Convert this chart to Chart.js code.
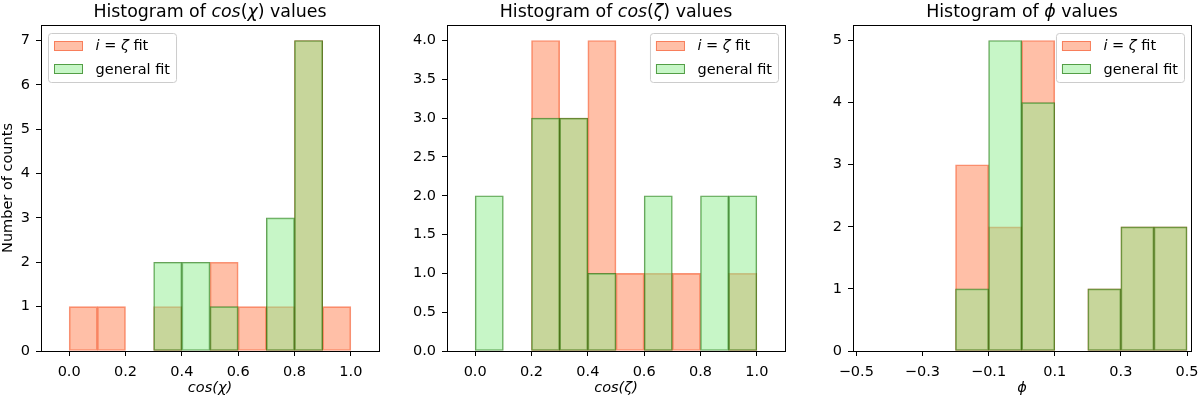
<!DOCTYPE html>
<html><head><meta charset="utf-8">
<script src="https://cdn.jsdelivr.net/npm/chart.js@4.4.1/dist/chart.umd.min.js"></script>
<style>
html,body{margin:0;padding:0;background:#fff;}
#wrap{position:relative;width:1200px;height:398px;overflow:hidden;}
canvas{position:absolute;top:0;}
</style></head><body>
<div id="wrap">
<canvas id="c1" width="400" height="398" style="left:0px"></canvas>
<canvas id="c2" width="400" height="398" style="left:400px"></canvas>
<canvas id="c3" width="400" height="398" style="left:800px"></canvas>
</div>
<script>
// ---------------- data ----------------
const seriesNames = ['i = ζ fit', 'general fit'];

const chiBins = [0.05, 0.15, 0.25, 0.35, 0.45, 0.55, 0.65, 0.75, 0.85, 0.95];
const chiFixed = [1, 1, 0, 1, 0, 2, 1, 1, 7, 1];
const chiGeneral = [0, 0, 0, 2, 2, 1, 0, 3, 7, 0];

const zetaBins = [0.05, 0.15, 0.25, 0.35, 0.45, 0.55, 0.65, 0.75, 0.85, 0.95];
const zetaFixed = [0, 0, 4, 3, 4, 1, 1, 1, 0, 1];
const zetaGeneral = [2, 0, 3, 3, 1, 0, 2, 0, 2, 2];

const phiBins = [-0.15, -0.05, 0.05, 0.15, 0.25, 0.35, 0.45];
const phiFixed = [3, 2, 5, 0, 1, 2, 2];
const phiGeneral = [1, 5, 4, 0, 1, 2, 2];

const cosTicksX = [0, 0.2, 0.4, 0.6, 0.8, 1.0];
const cosTickLabelsX = ['0.0', '0.2', '0.4', '0.6', '0.8', '1.0'];
const phiTicksX = [-0.5, -0.3, -0.1, 0.1, 0.3, 0.5];
const phiTickLabelsX = ['\u22120.5', '\u22120.3', '\u22120.1', '0.1', '0.3', '0.5'];

const chiTicksY = [0, 1, 2, 3, 4, 5, 6, 7];
const chiTickLabelsY = ['0', '1', '2', '3', '4', '5', '6', '7'];
const zetaTicksY = [0, 0.5, 1, 1.5, 2, 2.5, 3, 3.5, 4];
const zetaTickLabelsY = ['0.0', '0.5', '1.0', '1.5', '2.0', '2.5', '3.0', '3.5', '4.0'];
const phiTicksY = [0, 1, 2, 3, 4, 5];
const phiTickLabelsY = ['0', '1', '2', '3', '4', '5'];

const titleSegments = [
  [{t: 'Histogram of '}, {t: 'cos', it: true}, {t: '('}, {t: 'χ', it: true}, {t: ')'}, {t: ' values'}],
  [{t: 'Histogram of '}, {t: 'cos', it: true}, {t: '('}, {t: 'ζ', it: true}, {t: ')'}, {t: ' values'}],
  [{t: 'Histogram of '}, {t: 'ϕ', it: true}, {t: ' values'}]
];
const legendSegments = [
  [{t: 'i', it: true}, {t: ' = '}, {t: 'ζ', it: true}, {t: ' fit'}],
  [{t: 'general fit'}]
];
const xTitles = ['cos(χ)', 'cos(ζ)', 'ϕ'];
const yTitle = 'Number of counts';

// ---------------- styles ----------------
const FONT = '"DejaVu Sans", "Liberation Sans", sans-serif';
const fixedFill = 'rgba(255,127,80,0.5)';
const fixedEdge = 'rgba(245,100,60,0.7)';
const genFill = 'rgba(144,238,144,0.5)';
const genEdge = 'rgba(20,110,0,0.65)';

function drawRich(ctx, segs, x, y, size, align) {
  let total = 0;
  const ws = segs.map(s => {
    ctx.font = (s.it ? 'italic ' : '') + size + 'px ' + FONT;
    const w = ctx.measureText(s.t).width;
    total += w;
    return w;
  });
  let cx = align === 'center' ? x - total / 2 : x;
  segs.forEach((s, i) => {
    ctx.font = (s.it ? 'italic ' : '') + size + 'px ' + FONT;
    ctx.fillText(s.t, cx, y);
    cx += ws[i];
  });
  return total;
}
function measureRich(ctx, segs, size) {
  let total = 0;
  segs.forEach(s => {
    ctx.font = (s.it ? 'italic ' : '') + size + 'px ' + FONT;
    total += ctx.measureText(s.t).width;
  });
  return total;
}

const decor = {
  id: 'decor',
  afterDatasetsDraw(chart, args, opts) {
    const {ctx, chartArea: a} = chart;
    ctx.save();
    // frame
    ctx.strokeStyle = '#000';
    ctx.lineWidth = 1;
    ctx.strokeRect(Math.round(a.left) + 0.5, Math.round(a.top) + 0.5,
      Math.round(a.right) - Math.round(a.left), Math.round(a.bottom) - Math.round(a.top));
    // title
    ctx.fillStyle = '#000';
    ctx.textBaseline = 'alphabetic';
    drawRich(ctx, opts.title, (a.left + a.right) / 2, 16.5, 17.4, 'center');
    // legend
    const fs = 14.5;
    const tw = Math.max(...legendSegments.map(s => measureRich(ctx, s, fs)));
    const bw = 47.5 + tw + 6;
    const bh = 49;
    const bx = opts.legendSide === 'left' ? a.left + 7 : a.right - 7 - bw;
    const by = a.top + 8;
    ctx.beginPath();
    if (ctx.roundRect) ctx.roundRect(bx + 0.5, by + 0.5, bw, bh, 3); else ctx.rect(bx + 0.5, by + 0.5, bw, bh);
    ctx.fillStyle = 'rgba(255,255,255,0.8)';
    ctx.fill();
    ctx.strokeStyle = '#cccccc';
    ctx.stroke();
    const rows = [by + 12.5, by + 36];
    const fills = [fixedFill, genFill];
    const edges = [fixedEdge, genEdge];
    rows.forEach((ry, i) => {
      ctx.fillStyle = fills[i];
      ctx.fillRect(bx + 6, Math.round(ry - 5), 29, 10);
      ctx.strokeStyle = edges[i];
      ctx.strokeRect(bx + 6.5, Math.round(ry - 5) + 0.5, 28, 9);
      ctx.fillStyle = '#000';
      ctx.textBaseline = 'middle';
      drawRich(ctx, legendSegments[i], bx + 47.5, ry + 1, fs, 'left');
    });
    ctx.restore();
  }
};

function makeDataset(label, bins, counts, fill, edge, order) {
  return {
    label: label,
    data: bins.map((x, i) => ({x: x, y: counts[i] === 0 ? null : counts[i]})),
    backgroundColor: fill,
    borderColor: edge,
    borderWidth: 1,
    borderSkipped: false,
    barPercentage: 1,
    categoryPercentage: 1,
    grouped: false,
    order: order
  };
}

function makeChart(id, cfg) {
  const tickFont = {family: FONT, size: 14.5};
  new Chart(document.getElementById(id), {
    type: 'bar',
    data: {
      datasets: [
        makeDataset(seriesNames[0], cfg.bins, cfg.fixed, fixedFill, fixedEdge, 1),
        makeDataset(seriesNames[1], cfg.bins, cfg.general, genFill, genEdge, 0)
      ]
    },
    options: {
      responsive: false,
      animation: false,
      layout: {padding: {top: 25, right: cfg.padRight, bottom: 0, left: 0}},
      plugins: {
        legend: {display: false},
        tooltip: {enabled: false},
        title: {display: false},
        decor: {title: cfg.title, legendSide: cfg.legendSide}
      },
      scales: {
        x: {
          type: 'linear',
          min: cfg.xmin, max: cfg.xmax,
          offset: false,
          grid: {display: true, drawOnChartArea: false, drawTicks: true, tickLength: 5, tickColor: '#000', offset: false},
          border: {display: false},
          ticks: {color: '#000', font: tickFont, padding: 8, maxRotation: 0, autoSkip: false,
            callback: (v, i) => cfg.xLabels[i]},
          afterBuildTicks: s => { s.ticks = cfg.xTicks.map(v => ({value: v})); },
          afterFit: s => { s.height = 47; s.paddingLeft = 0; s.paddingRight = 0; },
          title: {display: true, text: cfg.xTitle, color: '#000',
            font: {family: FONT, size: 14.5, style: 'italic'}, padding: {top: 0, bottom: 1}}
        },
        y: {
          type: 'linear',
          min: 0, max: cfg.ymax,
          grid: {display: true, drawOnChartArea: false, drawTicks: true, tickLength: 5, tickColor: '#000'},
          border: {display: false},
          ticks: {color: '#000', font: tickFont, padding: 6, autoSkip: false,
            callback: (v, i) => cfg.yLabels[i]},
          afterBuildTicks: s => { s.ticks = cfg.yTicks.map(v => ({value: v})); },
          afterFit: s => { s.width = cfg.yWidth; s.paddingTop = 0; s.paddingBottom = 0; },
          title: {display: !!cfg.yTitle, text: cfg.yTitle || '', color: '#000',
            font: {family: FONT, size: 14.5}, padding: {top: 0, bottom: 0}}
        }
      }
    },
    plugins: [decor]
  });
}

makeChart('c1', {bins: chiBins, fixed: chiFixed, general: chiGeneral, xmin: -0.1, xmax: 1.1,
  xTicks: cosTicksX, xLabels: cosTickLabelsX, ymax: 7.35, yTicks: chiTicksY, yLabels: chiTickLabelsY,
  xTitle: xTitles[0], yTitle: yTitle, yWidth: 41, padRight: 21, title: titleSegments[0], legendSide: 'left'});
makeChart('c2', {bins: zetaBins, fixed: zetaFixed, general: zetaGeneral, xmin: -0.1, xmax: 1.1,
  xTicks: cosTicksX, xLabels: cosTickLabelsX, ymax: 4.2, yTicks: zetaTicksY, yLabels: zetaTickLabelsY,
  xTitle: xTitles[1], yWidth: 47, padRight: 15, title: titleSegments[1], legendSide: 'right'});
makeChart('c3', {bins: phiBins, fixed: phiFixed, general: phiGeneral, xmin: -0.51, xmax: 0.512,
  xTicks: phiTicksX, xLabels: phiTickLabelsX, ymax: 5.25, yTicks: phiTicksY, yLabels: phiTickLabelsY,
  xTitle: xTitles[2], yWidth: 53, padRight: 9, title: titleSegments[2], legendSide: 'right'});
</script>
</body></html>
